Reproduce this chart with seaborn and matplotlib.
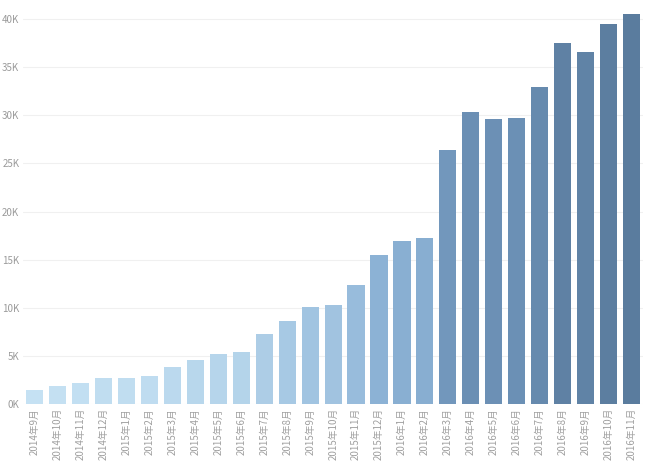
import matplotlib
matplotlib.use("Agg")
import matplotlib.pyplot as plt
import seaborn as sns
import pandas as pd
import numpy as np
from matplotlib.colors import LinearSegmentedColormap, to_hex
from matplotlib.ticker import FuncFormatter, MultipleLocator

months = ["2014年9月", "2014年10月", "2014年11月", "2014年12月",
          "2015年1月", "2015年2月", "2015年3月", "2015年4月", "2015年5月", "2015年6月",
          "2015年7月", "2015年8月", "2015年9月", "2015年10月", "2015年11月", "2015年12月",
          "2016年1月", "2016年2月", "2016年3月", "2016年4月", "2016年5月", "2016年6月",
          "2016年7月", "2016年8月", "2016年9月", "2016年10月", "2016年11月"]
values = [1400, 1850, 2150, 2680, 2680, 2880, 3880, 4550, 5200, 5450,
          7300, 8600, 10050, 10250, 12400, 15500, 16900, 17250, 26400, 30300,
          29600, 29700, 32900, 37550, 36600, 39450, 40550]

sns.set_theme(style="white")
plt.rcParams['font.family'] = ['Noto Sans CJK JP', 'DejaVu Sans']

df = pd.DataFrame({"month": months, "value": values})
cmap = LinearSegmentedColormap.from_list("tabblue", ["#c5e1f3", "#8fb5d7", "#6f94ba", "#5a7c9e"])
vmin, vmax = min(values), max(values)
palette = [to_hex(cmap((v - vmin) / (vmax - vmin))) for v in values]

fig = plt.figure(figsize=(6.5, 4.67), dpi=100)
ax = fig.add_axes([0.036, 0.135, 0.953, 0.855])
sns.barplot(data=df, x="month", y="value", hue="month", palette=palette,
            legend=False, width=0.75, ax=ax, saturation=1, edgecolor="none")

ax.set_ylim(0, 41500)
ax.set_xlim(-0.5, len(months) - 0.5)
ax.yaxis.set_major_locator(MultipleLocator(5000))
ax.yaxis.set_major_formatter(FuncFormatter(lambda v, p: f"{int(v/1000)}K"))
ax.grid(axis="y", color="#f0f0f0", linewidth=0.8)
ax.set_axisbelow(True)
for s in ax.spines.values():
    s.set_visible(False)
ax.set_xlabel("")
ax.set_ylabel("")
ax.tick_params(axis="y", labelsize=7, colors="#9a9a9a", length=0, pad=3)
ax.tick_params(axis="x", labelsize=7, colors="#a0a0a0", length=0, pad=3)
for lab in ax.get_xticklabels():
    lab.set_rotation(90)

fig.savefig("out.png", dpi=100)
